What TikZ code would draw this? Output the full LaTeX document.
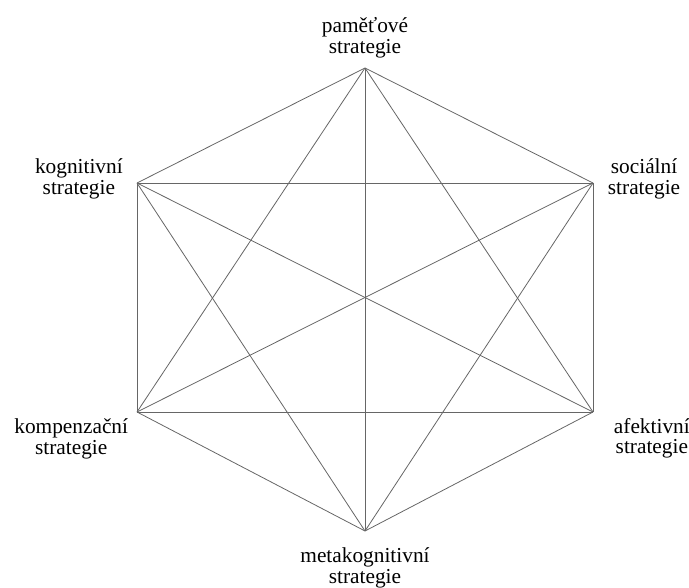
\documentclass[tikz,border=0pt]{standalone}
\usepackage{fontspec}
\setmainfont{Liberation Serif}
\usetikzlibrary{positioning}

\begin{document}
\begin{tikzpicture}[x=0.75pt, y=-0.75pt,
    edge/.style={black!60, line width=0.6pt},
    lbl/.style={inner sep=0pt, align=center, font=\rmfamily\fontsize{16}{15.5}\selectfont}]

\useasboundingbox (0,0) rectangle (689,588);

% ── Corners of the hexagon ──────────────────────────────────────
\coordinate (pamet)   at (365, 68);
\coordinate (social)  at (593, 183);
\coordinate (afekt)   at (593, 412);
\coordinate (meta)    at (365, 531);
\coordinate (kompenz) at (137, 412);
\coordinate (kognit)  at (137, 183);

% ── Every strategy joined to every other one ─────────────────────
\foreach \a [count=\i] in {pamet, social, afekt, meta, kompenz, kognit}
  \foreach \b [count=\j] in {pamet, social, afekt, meta, kompenz, kognit}
    {\ifnum\j>\i \draw[edge] (\a) -- (\b); \fi}

% ── Labels ──────────────────────────────────────────────────────
\node[lbl, above=7.5pt of pamet] (pametlbl) {paměťové\\strategie};
\node[lbl, right=11pt of social, yshift=3pt] (sociallbl) {sociální\\strategie};
\node[lbl, below right=4.5pt and 15.5pt of afekt] (afektlbl) {afektivní\\strategie};
\node[lbl, below=12.5pt of meta] (metalbl) {metakognitivní\\strategie};
\node[lbl, below left=5pt and 6.5pt of kompenz] (kompenzlbl) {kompenzační\\strategie};
\node[lbl, left=10.5pt of kognit, yshift=3pt] (kognitlbl) {kognitivní\\strategie};

\end{tikzpicture}
\end{document}
